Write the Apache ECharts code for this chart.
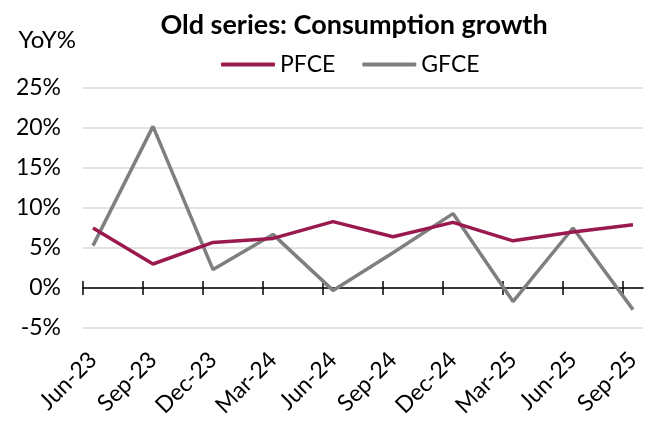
<!DOCTYPE html>
<html>
<head>
<meta charset="utf-8">
<script src="https://cdn.jsdelivr.net/npm/echarts@6/dist/echarts.min.js"></script>
<style>
  html, body { margin: 0; padding: 0; background: #fff; }
  #chart { width: 646px; height: 423px; }
</style>
</head>
<body>
<div id="chart"></div>
<script>
const quarters = ['Jun-23', 'Sep-23', 'Dec-23', 'Mar-24', 'Jun-24', 'Sep-24', 'Dec-24', 'Mar-25', 'Jun-25', 'Sep-25']
const pfce = [7.5, 3.0, 5.7, 6.2, 8.3, 6.4, 8.2, 5.9, 7.0, 7.9]
const gfce = [5.3, 20.2, 2.3, 6.7, -0.3, 4.4, 9.3, -1.7, 7.5, -2.7]
const yTicks = [-5, 0, 5, 10, 15, 20, 25]

// Excel date axis: points sit a bit right of each tick
const offset = 1 / 6
const tickPos = quarters.map((q, i) => [i])
const pointPos = quarters.map((q, i) => i + offset)
const font = 'Lato, "Open Sans", sans-serif'

const chart = echarts.init(document.getElementById('chart'))
chart.setOption({
  animation: false,
  title: {
    text: 'Old series: Consumption growth',
    left: 349,
    top: 7,
    textAlign: 'center',
    textStyle: { fontFamily: font, fontSize: 27, fontWeight: 'bold', color: '#000' }
  },
  legend: {
    left: 216,
    top: 48,
    icon: 'roundRect',
    itemWidth: 54,
    itemHeight: 4,
    itemGap: 27,
    textStyle: { fontFamily: font, fontSize: 23, color: '#000' },
    data: ['PFCE', 'GFCE']
  },
  grid: { left: 83, right: 3, top: 88, bottom: 95, outerBoundsMode: 'none' },
  xAxis: {
    type: 'value',
    min: 0,
    max: quarters.length - 1 + 2 * offset,
    axisLine: { onZero: true, lineStyle: { color: '#000', width: 1.5 } },
    axisTick: { show: false },
    axisLabel: {
      customValues: pointPos,
      rotate: 45,
      margin: 28,
      fontFamily: font,
      fontSize: 23,
      color: '#000',
      formatter: v => quarters[Math.round(v)] || ''
    },
    splitLine: { show: false }
  },
  yAxis: {
    type: 'value',
    min: yTicks[0],
    max: yTicks[yTicks.length - 1],
    interval: 5,
    name: 'YoY%',
    nameLocation: 'end',
    nameGap: 36,
    nameTextStyle: { fontFamily: font, fontSize: 24, color: '#000', align: 'right', padding: [0, 7, 0, 0] },
    axisLine: { show: false },
    axisTick: { show: false },
    axisLabel: { fontFamily: font, fontSize: 23, color: '#000', margin: 22, formatter: v => v + '%' },
    splitLine: { lineStyle: { color: '#d9d9d9', width: 1.5 } }
  },
  series: [{
    name: 'PFCE',
    type: 'line',
    data: pfce.map((v, i) => [pointPos[i], v]),
    symbol: 'none',
    lineStyle: { color: '#9b1a4e', width: 3.5 },
    itemStyle: { color: '#9b1a4e' },
    z: 3
  }, {
    name: 'GFCE',
    type: 'line',
    data: gfce.map((v, i) => [pointPos[i], v]),
    symbol: 'none',
    lineStyle: { color: '#7f7f7f', width: 3.5 },
    itemStyle: { color: '#7f7f7f' },
    z: 2
  }, {
    // cross ticks on the zero line
    name: 'ticks',
    type: 'custom',
    data: tickPos,
    silent: true,
    z: 1,
    renderItem: (params, api) => {
      const p = api.coord([api.value(0), 0])
      return {
        type: 'line',
        shape: { x1: p[0], y1: p[1] - 7, x2: p[0], y2: p[1] + 7 },
        style: { stroke: '#000', lineWidth: 1.5 }
      }
    }
  }]
})
</script>
</body>
</html>
